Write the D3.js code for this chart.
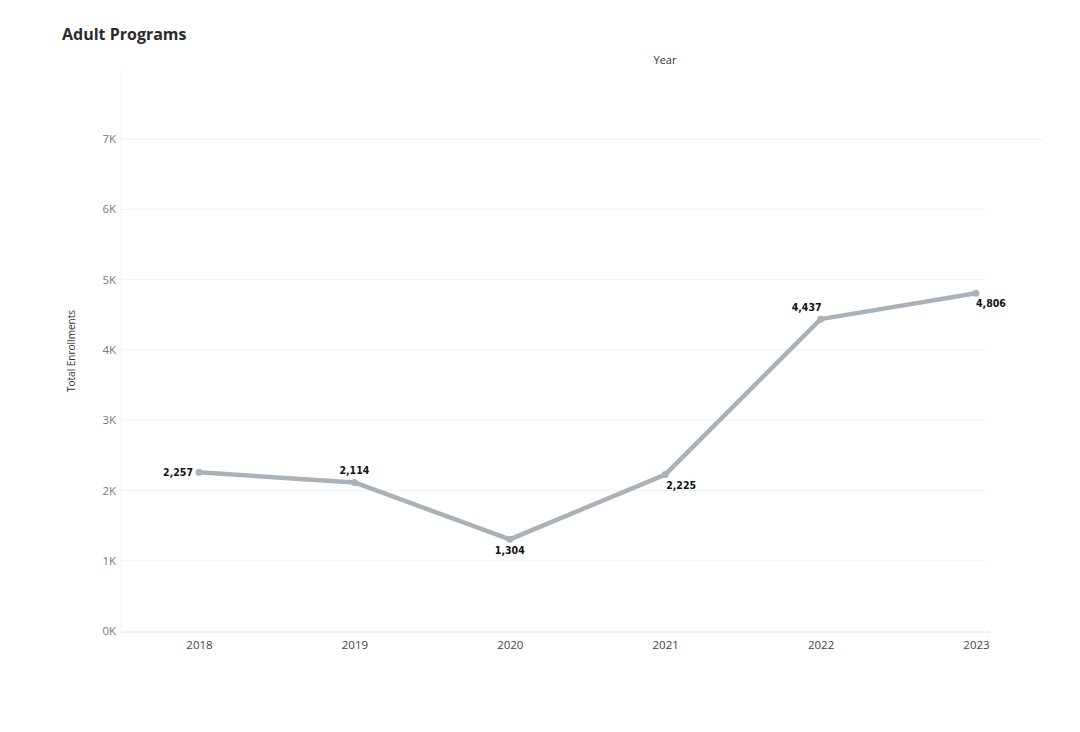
<!DOCTYPE html>
<html>
<head>
<meta charset="utf-8">
<script src="https://cdn.jsdelivr.net/npm/d3@7"></script>
<style>
  body { margin: 0; background: #fff; }
  svg { font-family: "Open Sans", "Noto Sans", sans-serif; }
</style>
</head>
<body>
<div id="chart"></div>
<script>
var years = ["2018", "2019", "2020", "2021", "2022", "2023"];
var enrollments = [2257, 2114, 1304, 2225, 4437, 4806];
var yTicks = [0, 1000, 2000, 3000, 4000, 5000, 6000, 7000];
// label placement per point: [dx, dy, anchor]
var labelPos = [[-6, 4, "end"], [0, -8, "middle"], [0, 15, "middle"], [1, 14, "start"], [1, -8, "end"], [0, 14, "start"]];

var width = 1080, height = 732;
var svg = d3.select("#chart").append("svg")
	.attr("width", width)
	.attr("height", height);

var x = d3.scalePoint().domain(years).range([199, 976]);
var y = d3.scaleLinear().domain([0, 7000]).range([631, 139]);

svg.append("text")
	.attr("x", 62).attr("y", 40)
	.style("font-size", "16px").style("font-weight", "bold")
	.style("fill", "#2b2b2b")
	.text("Adult Programs");

svg.append("text")
	.attr("x", 665).attr("y", 64)
	.attr("text-anchor", "middle")
	.style("font-size", "11px").style("fill", "#333")
	.text("Year");

svg.append("text")
	.attr("transform", "translate(75,351) rotate(-90)")
	.attr("text-anchor", "middle")
	.style("font-size", "10px").style("fill", "#333")
	.text("Total Enrollments");

// faint frame line
svg.append("line")
	.attr("x1", 121).attr("x2", 121).attr("y1", 70).attr("y2", 631)
	.style("stroke", "#f3f3f3");

// grid
svg.append("g").selectAll("line")
	.data(yTicks.filter(function(d){ return d > 0; }))
	.enter().append("line")
	.attr("x1", 121)
	.attr("x2", function(d){ return d === 7000 ? 1043 : 985; })
	.attr("y1", function(d){ return y(d); })
	.attr("y2", function(d){ return y(d); })
	.style("stroke", "#f0f0f0");

svg.append("line")
	.attr("x1", 121).attr("x2", 990).attr("y1", y(0) + 1).attr("y2", y(0) + 1)
	.style("stroke", "#c8c8c8").style("stroke-dasharray", "1,1");

var yAxis = d3.axisLeft(y).tickValues(yTicks)
	.tickFormat(function(d){ return (d / 1000) + "K"; })
	.tickSize(0).tickPadding(0);
var gy = svg.append("g").attr("transform", "translate(116,0)").call(yAxis);
gy.select(".domain").remove();
gy.selectAll("text").style("font-size", "11.5px").style("fill", "#7a7a7a")
	.style("font-family", "'Open Sans', sans-serif");

var xAxis = d3.axisBottom(x).tickSize(0).tickPadding(0);
var gx = svg.append("g").attr("transform", "translate(0,641)").call(xAxis);
gx.select(".domain").remove();
gx.selectAll("text").style("font-size", "11.5px").style("fill", "#444")
	.style("font-family", "'Open Sans', sans-serif");

var data = years.map(function(d, i){ return {year: d, value: enrollments[i], pos: labelPos[i]}; });

var line = d3.line()
	.x(function(d){ return x(d.year); })
	.y(function(d){ return y(d.value); });

svg.append("path")
	.datum(data)
	.attr("d", line)
	.attr("fill", "none")
	.style("stroke", "#a9b1b9")
	.attr("stroke-width", 4.5)
	.attr("stroke-linejoin", "round");

svg.append("g").selectAll("circle")
	.data(data)
	.enter().append("circle")
	.attr("cx", function(d){ return x(d.year); })
	.attr("cy", function(d){ return y(d.value); })
	.attr("r", 3.5)
	.style("fill", "#a9b1b9");

svg.append("g").selectAll("text")
	.data(data)
	.enter().append("text")
	.attr("x", function(d){ return x(d.year) + d.pos[0]; })
	.attr("y", function(d){ return y(d.value) + d.pos[1]; })
	.attr("text-anchor", function(d){ return d.pos[2]; })
	.style("font-family", "'DejaVu Sans Condensed', 'DejaVu Sans', sans-serif")
	.style("font-stretch", "condensed")
	.style("font-weight", "bold")
	.style("font-size", "10.5px")
	.style("fill", "#111")
	.text(function(d){ return d3.format(",")(d.value); });
</script>
</body>
</html>
